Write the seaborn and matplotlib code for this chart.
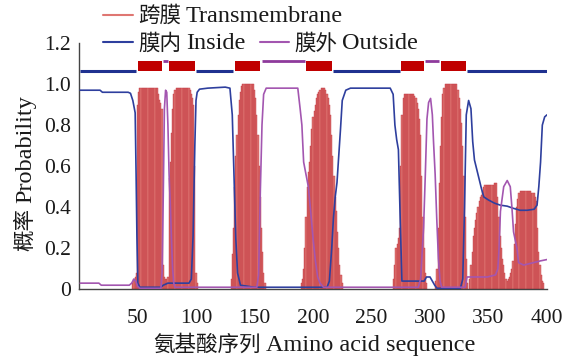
import numpy as np
import pandas as pd
import matplotlib
matplotlib.use("Agg")
import matplotlib.pyplot as plt
from matplotlib.lines import Line2D
import seaborn as sns

# ---------------- data ----------------
# Transmembrane probability per residue, listed as runs (start residue, values)
tm_run1_start = 46
tm_run1 = [0.03, 0.05, 0.06, 0.08, 0.90, 0.96] + [0.98] * 16 + [0.95, 0.92, 0.91, 0.88, 0.12, 0.06, 0.05, 0.05, 0.06]
tm_run2_start = 77
tm_run2 = [0.54, 0.62, 0.76, 0.88, 0.95, 0.97] + [0.98] * 12 + [0.97, 0.95, 0.93, 0.90, 0.60, 0.08, 0.03]
tm_run3_start = 130
tm_run3 = [0.05, 0.17, 0.30, 0.50, 0.65, 0.75, 0.85, 0.92, 0.96, 0.99] + [1.0] * 10 + \
          [0.97, 0.93, 0.85, 0.75, 0.60, 0.45, 0.30, 0.18, 0.08, 0.03]
tm_run4_start = 190
tm_run4 = [0.03, 0.05, 0.10, 0.20, 0.35, 0.50, 0.57, 0.62, 0.70, 0.78, 0.84, 0.87, 0.90, 0.93,
           0.95, 0.96, 0.97, 0.98, 0.98, 0.98, 0.98, 0.97, 0.95, 0.93, 0.90, 0.85, 0.75, 0.65,
           0.55, 0.45, 0.38, 0.28, 0.20, 0.12, 0.07, 0.03]
tm_run5_start = 269
tm_run5 = [0.05, 0.12, 0.20, 0.22, 0.25, 0.30, 0.60, 0.85, 0.93] + [0.95] * 9 + \
          [0.94, 0.93, 0.91, 0.88, 0.83, 0.75, 0.55, 0.35, 0.20, 0.08, 0.03]
tm_run6_start = 305
tm_run6 = [0.04, 0.10, 0.30, 0.52, 0.70, 0.84, 0.95, 0.98] + [1.0] * 11 + \
          [0.97, 0.93, 0.88, 0.81, 0.70, 0.55, 0.35, 0.15, 0.03]
tm_run7_start = 334
tm_run7 = [0.05, 0.12, 0.18, 0.26, 0.30, 0.34, 0.37, 0.40, 0.43, 0.45, 0.46, 0.48, 0.50, 0.51,
           0.51, 0.51, 0.51, 0.51, 0.51, 0.51, 0.51, 0.52, 0.52, 0.52, 0.45, 0.35, 0.26, 0.20,
           0.15, 0.12, 0.08, 0.05, 0.04, 0.05, 0.06, 0.08, 0.10, 0.14, 0.22, 0.32, 0.40, 0.44,
           0.47, 0.48, 0.48, 0.48, 0.48, 0.48, 0.48, 0.48, 0.48, 0.48, 0.48, 0.47, 0.47, 0.47,
           0.45, 0.43, 0.30, 0.18, 0.12, 0.07, 0.04, 0.03]

# Inside probability (read points)
inside_x = [1, 18, 20, 42, 44, 46, 48, 48.8, 49.5, 50.3, 52, 70, 72, 76, 90, 94, 96, 97.5, 99, 100,
            101, 103, 110, 125, 129, 131, 132.5, 134, 135.5, 138, 150, 212, 214, 216, 217.5, 219,
            220.5, 222, 223.5, 225, 228, 232, 266, 268.5, 270, 271.5, 273, 274.5, 276, 278, 295,
            297, 300, 302, 304, 306, 326, 328, 329.5, 331, 333, 335, 336.5, 338, 341, 344, 346,
            350, 355, 360, 366, 371, 377, 383, 389, 391.5, 393, 394.5, 396, 398, 400]
inside_y = [0.97, 0.97, 0.96, 0.96, 0.955, 0.92, 0.86, 0.56, 0.26, 0.03, 0.01, 0.01, 0.02, 0.03,
            0.03, 0.03, 0.05, 0.26, 0.70, 0.92, 0.96, 0.975, 0.98, 0.985, 0.98, 0.85, 0.55, 0.25,
            0.08, 0.02, 0.01, 0.01, 0.04, 0.20, 0.35, 0.45, 0.52, 0.65, 0.78, 0.92, 0.97, 0.98,
            0.98, 0.95, 0.80, 0.73, 0.68, 0.35, 0.04, 0.04, 0.04, 0.06, 0.06, 0.04, 0.02, 0.005,
            0.005, 0.05, 0.40, 0.85, 0.92, 0.88, 0.72, 0.63, 0.56, 0.49, 0.45, 0.435, 0.42, 0.41,
            0.405, 0.395, 0.385, 0.385, 0.39, 0.41, 0.50, 0.62, 0.80, 0.84, 0.85]

# Outside probability (read points)
outside_x = [1, 17, 19, 43, 45, 47, 48.5, 50, 52, 70, 71, 72, 73, 74, 75, 76, 77, 78, 79, 80, 81,
             82, 152, 153.5, 155, 156.4, 157.8, 160, 187, 189, 190.5, 192, 194, 196, 198, 200,
             202, 204, 206, 209, 290, 292, 293, 294.5, 296, 297.4, 298.8, 300.5, 302, 303, 304.4,
             305.8, 307.2, 308.6, 310, 330, 331.6, 349, 356, 358, 359, 360.2, 363, 366, 368.6,
             370, 371.4, 374.3, 375.7, 380, 388.6, 394, 400]
outside_y = [0.03, 0.03, 0.02, 0.02, 0.03, 0.05, 0.04, 0.015, 0.005, 0.005, 0.08, 0.45, 0.88,
             0.97, 0.96, 0.80, 0.56, 0.42, 0.25, 0.10, 0.03, 0.01, 0.01, 0.07, 0.48, 0.80, 0.95,
             0.98, 0.98, 0.88, 0.80, 0.62, 0.56, 0.50, 0.38, 0.25, 0.14, 0.06, 0.03, 0.01, 0.01,
             0.05, 0.15, 0.30, 0.56, 0.83, 0.91, 0.93, 0.85, 0.72, 0.56, 0.34, 0.15, 0.04, 0.01,
             0.01, 0.06, 0.06, 0.07, 0.10, 0.20, 0.38, 0.50, 0.53, 0.50, 0.40, 0.28, 0.20, 0.13,
             0.118, 0.13, 0.138, 0.145]

# Predicted topology segments
tm_seg_start = [50, 77, 133, 194, 275, 309]
tm_seg_end = [71, 99, 155, 216, 295, 331]
in_seg_start = [1, 100, 217, 332]
in_seg_end = [49, 132, 274, 400]
out_seg_start = [72, 156, 296]
out_seg_end = [76, 193, 308]

x_ticks = [50, 100, 150, 200, 250, 300, 350, 400]
y_ticks = [0, 0.2, 0.4, 0.6, 0.8, 1.0, 1.2]
y_ticklabels = ["0", "0.2", "0.4", "0.6", "0.8", "1.0", "1.2"]

legend_labels = ["跨膜 Transmembrane", "膜内 Inside", "膜外 Outside"]
x_label = "氨基酸序列 Amino acid sequence"
y_label = "概率 Probability"

# ---------------- build ----------------
runs = [(tm_run1_start, tm_run1), (tm_run2_start, tm_run2), (tm_run3_start, tm_run3),
        (tm_run4_start, tm_run4), (tm_run5_start, tm_run5), (tm_run6_start, tm_run6),
        (tm_run7_start, tm_run7)]
tm_x, tm_y = [], []
for s, vals in runs:
    tm_x += list(range(s, s + len(vals)))
    tm_y += vals
tm_df = pd.DataFrame({"pos": tm_x, "prob": tm_y})

sns.set_style("white")
FONT = ["Liberation Serif", "Noto Sans CJK SC", "DejaVu Sans"]
CJK_FONT = ["Noto Sans CJK SC", "DejaVu Sans"]
plt.rcParams["font.family"] = FONT

C_TM = "#df7672"
C_TM_EDGE = "#c23540"
C_BOX = "#c00000"
C_IN = "#2e3f9e"
C_OUT = "#a356b0"
TXT = "#1a1a1a"

W, H = 572, 361
fig = plt.figure(figsize=(W / 100, H / 100), dpi=100)
ax = fig.add_axes([79 / W, 1 - 289.3 / H, (547 - 79) / W, (289.3 - 43) / H])

ax.bar(tm_df["pos"], tm_df["prob"], width=1.0, color=C_TM, edgecolor=C_TM_EDGE,
       linewidth=0.3, zorder=2)

sns.lineplot(x=inside_x, y=inside_y, ax=ax, color=C_IN, lw=1.2, estimator=None, zorder=3)
sns.lineplot(x=outside_x, y=outside_y, ax=ax, color=C_OUT, lw=1.2, estimator=None, zorder=3)

# topology strip
ax.hlines([1.066] * len(in_seg_start), in_seg_start, in_seg_end, color="#1f3190", lw=2.2, zorder=3)
ax.hlines([1.110] * len(out_seg_start), out_seg_start, out_seg_end, color="#8e3a9c", lw=2.0, zorder=3)
ax.bar(tm_seg_start, [0.049] * len(tm_seg_start), bottom=1.064,
       width=[e - s for s, e in zip(tm_seg_start, tm_seg_end)], align="edge",
       color=C_BOX, linewidth=0, zorder=4)

ax.set_xlim(0, 400)
ax.set_ylim(0, 1.2)
ax.set_xticks(x_ticks)
ax.set_yticks(y_ticks)
ax.set_yticklabels(y_ticklabels)
for s in ["top", "right"]:
    ax.spines[s].set_visible(False)
for s in ["left", "bottom"]:
    ax.spines[s].set_color("#444444")
    ax.spines[s].set_linewidth(1.0)
ax.tick_params(axis="y", direction="in", length=4, width=1, color="#444444", pad=6,
               labelsize=15.5, labelcolor=TXT)
ax.tick_params(axis="x", direction="out", length=5, width=1, color="#444444", pad=9,
               labelsize=15.5, labelcolor=TXT)

# ---- mixed-script texts: CJK part and Latin part sized separately ----
renderer = fig.canvas.get_renderer()
CJK_SIZE = 15.5
LAT_SIZE = 17.5


def fx(px):
    return px / W


def fy(py):
    return 1 - py / H


def mixed_text(label, x_px, base_px, vertical=False, gap=5):
    cjk, latin = label.split(" ", 1)
    if not vertical:
        t1 = fig.text(fx(x_px), fy(base_px), cjk, fontsize=CJK_SIZE, family=CJK_FONT,
                      ha="left", va="baseline", color=TXT)
        bb = t1.get_window_extent(renderer)
        fig.text(fx(bb.x1 + gap), fy(base_px), latin, fontsize=LAT_SIZE, family=FONT,
                 ha="left", va="baseline", color=TXT)
    else:
        # x_px = baseline x, base_px = bottom start y (text reads upward)
        t1 = fig.text(fx(x_px), fy(base_px), cjk, fontsize=CJK_SIZE, family=CJK_FONT,
                      ha="left", va="baseline", rotation=90, rotation_mode="anchor", color=TXT)
        bb = t1.get_window_extent(renderer)
        fig.text(fx(x_px), (bb.y1 + gap) / H, latin, fontsize=LAT_SIZE, family=FONT,
                 ha="left", va="baseline", rotation=90, rotation_mode="anchor", color=TXT)


# axis labels
mixed_text(x_label, 153, 351)
mixed_text(y_label, 31, 251, vertical=True)

# legend (two rows, above the axes)
leg_items = [(103, 133, 14.5, 21.5, C_TM, legend_labels[0]),
             (103, 133, 42, 49.3, C_IN, legend_labels[1]),
             (260, 289, 42, 49.3, C_OUT, legend_labels[2])]
for x0, x1, yy, base, col, lab in leg_items:
    fig.add_artist(Line2D([fx(x0), fx(x1)], [fy(yy), fy(yy)], color=col, lw=1.5,
                          transform=fig.transFigure))
    mixed_text(lab, x1 + 5, base)

fig.savefig("out.png", dpi=100)
